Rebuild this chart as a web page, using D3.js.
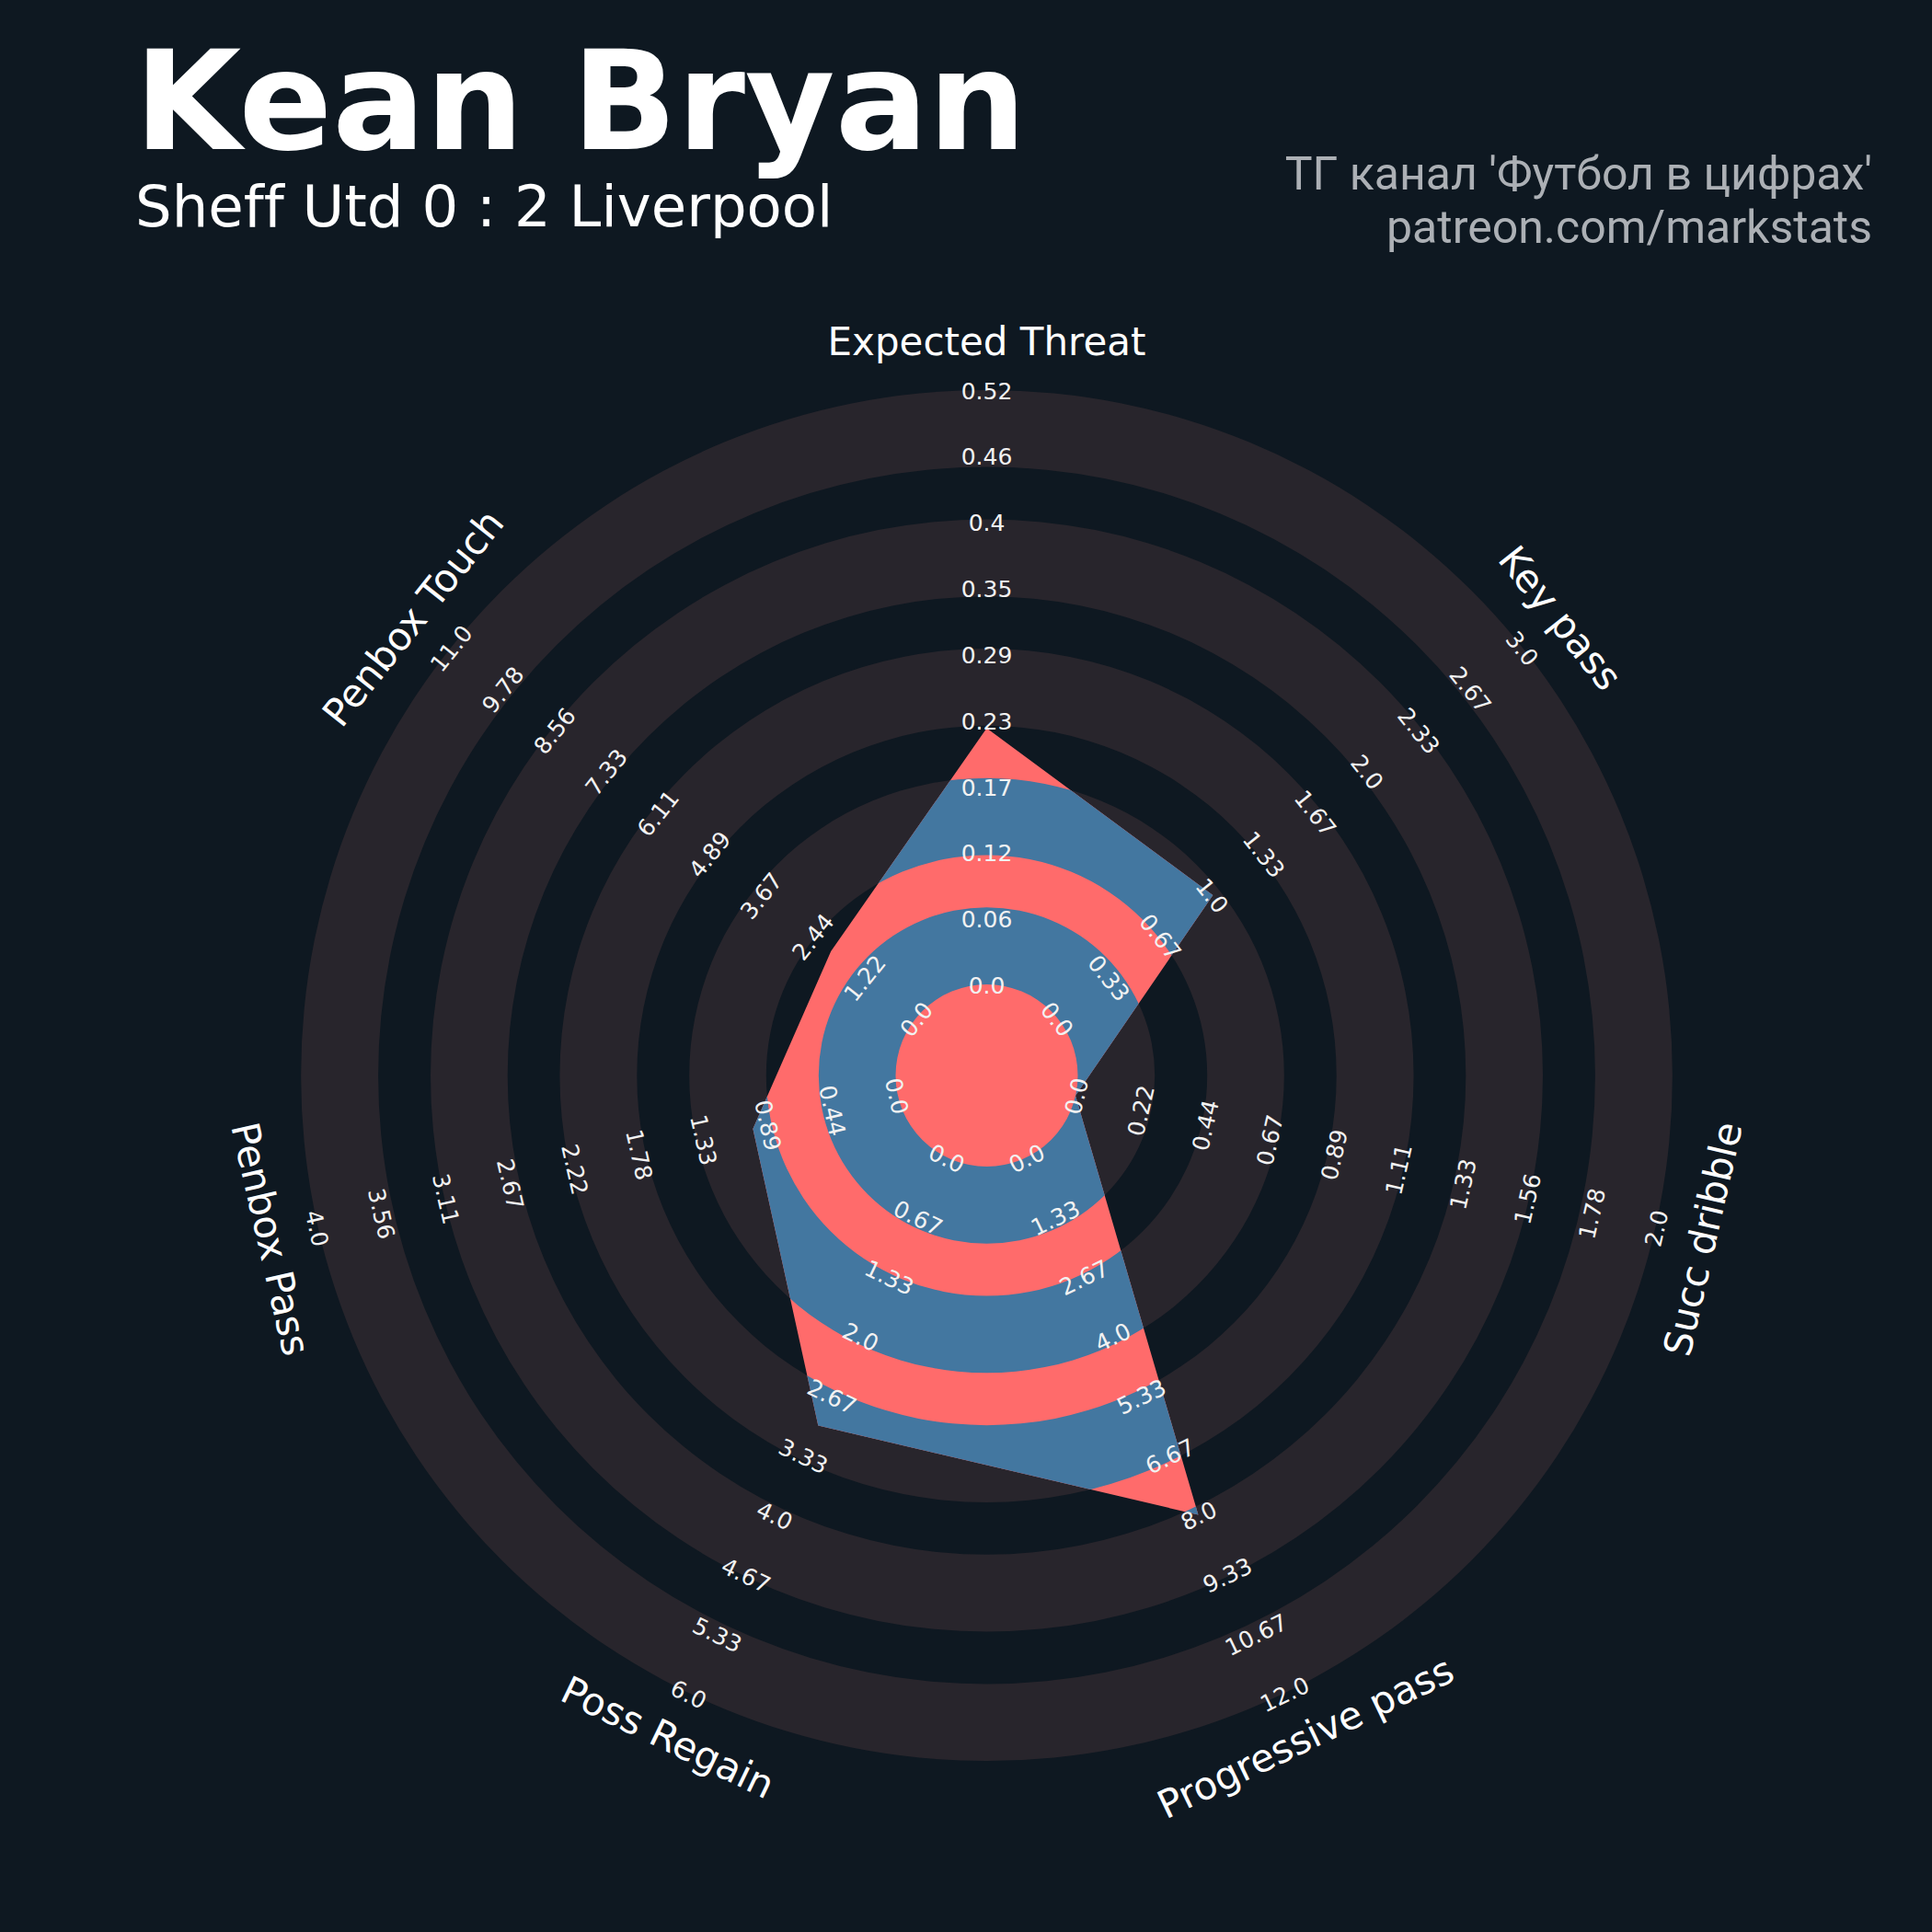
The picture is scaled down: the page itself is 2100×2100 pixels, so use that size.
<!DOCTYPE html>
<html>
<head>
<meta charset="utf-8">
<script src="https://cdn.jsdelivr.net/npm/d3@7"></script>
<style>
  html, body { margin: 0; padding: 0; background: #0e1821; }
  svg { display: block; }
  text { font-variant-ligatures: none; font-feature-settings: "liga" 0; }
</style>
</head>
<body>
<script>
// ---------------- data ----------------
const params = ['Expected Threat', 'Key pass', 'Succ dribble', 'Progressive pass',
                'Poss Regain', 'Penbox Pass', 'Penbox Touch'];
const values = [0.224, 1, 0, 8, 3, 1, 2];
const lows   = [0, 0, 0, 0, 0, 0, 0];
const highs  = [0.52, 3, 2, 12, 6, 4, 11];
const tickLabelsET  = ['0.0','0.06','0.12','0.17','0.23','0.29','0.35','0.4','0.46','0.52'];
const tickLabelsKP  = ['0.0','0.33','0.67','1.0','1.33','1.67','2.0','2.33','2.67','3.0'];
const tickLabelsSD  = ['0.0','0.22','0.44','0.67','0.89','1.11','1.33','1.56','1.78','2.0'];
const tickLabelsPP  = ['0.0','1.33','2.67','4.0','5.33','6.67','8.0','9.33','10.67','12.0'];
const tickLabelsPR  = ['0.0','0.67','1.33','2.0','2.67','3.33','4.0','4.67','5.33','6.0'];
const tickLabelsPBP = ['0.0','0.44','0.89','1.33','1.78','2.22','2.67','3.11','3.56','4.0'];
const tickLabelsPBT = ['0.0','1.22','2.44','3.67','4.89','6.11','7.33','8.56','9.78','11.0'];
const tickLabels = [tickLabelsET, tickLabelsKP, tickLabelsSD, tickLabelsPP,
                    tickLabelsPR, tickLabelsPBP, tickLabelsPBT];
const title = 'Kean Bryan';
const subtitle = 'Sheff Utd 0 : 2 Liverpool';
const creditLines = ["ТГ канал 'Футбол в цифрах'", 'patreon.com/markstats'];

// ---------------- layout ----------------
const W = 2100, H = 2100;
const cx = 1072.5, cy = 1169;
const innerR = 99, outerR = 745.5;
const nGray = 5, grayW = 83.7, darkW = 56.9;
const paramR = 798;
const BG = '#0e1821', RING = '#28252c', RED = '#ff6b6b', BLUE = '#4377a0';

const svg = d3.select('body').append('svg')
  .attr('width', W).attr('height', H)
  .attr('viewBox', `0 0 ${W} ${H}`);
svg.append('rect').attr('width', W).attr('height', H).attr('fill', BG);

const g = svg.append('g').attr('transform', `translate(${cx},${cy})`);

const n = params.length;
const angle = d3.scaleLinear().domain([0, n]).range([0, 2 * Math.PI]);
const rScales = params.map((p, i) =>
  d3.scaleLinear().domain([lows[i], highs[i]]).range([innerR, outerR]));

// band radii (gray rings)
const bands = d3.range(nGray).map(k => {
  const r0 = innerR + k * (grayW + darkW);
  return [r0, r0 + grayW];
});
const arc = d3.arc().startAngle(0).endAngle(2 * Math.PI);

// background rings
g.selectAll('path.ring').data(bands).join('path')
  .attr('class', 'ring')
  .attr('d', d => arc({innerRadius: d[0], outerRadius: d[1]}))
  .attr('fill', RING);

// radar polygon as clip
const radial = d3.lineRadial()
  .angle((d, i) => angle(i))
  .radius((d, i) => rScales[i](d))
  .curve(d3.curveLinearClosed);

svg.append('defs').append('clipPath').attr('id', 'radarClip')
  .append('path').attr('transform', `translate(${cx},${cy})`).attr('d', radial(values));

const rg = svg.append('g').attr('clip-path', 'url(#radarClip)')
  .append('g').attr('transform', `translate(${cx},${cy})`);
rg.append('circle').attr('r', outerR + 10).attr('fill', RED);
rg.selectAll('path.band').data(bands).join('path')
  .attr('class', 'band')
  .attr('d', d => arc({innerRadius: d[0], outerRadius: d[1]}))
  .attr('fill', BLUE);

const lg = svg.append('g').attr('transform', `translate(${cx},${cy})`);

// rotation helper (degrees, clockwise from top)
function rot(deg) {
  if (deg > 90 && deg < 270) return deg - 180;
  if (deg >= 270) return deg - 360;
  return deg;
}
function pos(a, r) { return [r * Math.sin(a), -r * Math.cos(a)]; }

// range labels and parameter names
params.forEach((p, i) => {
  const a = angle(i);
  const deg = a * 180 / Math.PI;
  const labs = tickLabels[i];
  const tickScale = d3.scaleLinear().domain([0, labs.length - 1]).range([lows[i], highs[i]]);
  labs.forEach((t, k) => {
    const [x, y] = pos(a, rScales[i](tickScale(k)));
    lg.append('text')
      .attr('transform', `translate(${x},${y}) rotate(${rot(deg)})`)
      .attr('text-anchor', 'middle')
      .attr('dy', '0.4em')
      .attr('font-family', 'DejaVu Sans')
      .attr('font-size', 25)
      .attr('fill', '#f2f2f2')
      .text(t);
  });
  const [px, py] = pos(a, paramR);
  lg.append('text')
    .attr('transform', `translate(${px},${py}) rotate(${rot(deg)})`)
    .attr('text-anchor', 'middle')
    .attr('dy', '0.36em')
    .attr('font-family', 'DejaVu Sans')
    .attr('font-size', 42)
    .attr('fill', '#ffffff')
    .text(p);
});

// titles
svg.append('text')
  .attr('x', 146).attr('y', 162)
  .attr('font-family', 'DejaVu Sans').attr('font-weight', 'bold')
  .attr('font-size', 150).attr('fill', '#ffffff')
  .text(title);
svg.append('text')
  .attr('x', 147).attr('y', 246)
  .attr('font-family', 'DejaVu Sans')
  .attr('font-size', 62.5).attr('fill', '#ffffff')
  .text(subtitle);
svg.selectAll('text.credit').data(creditLines).join('text')
  .attr('class', 'credit')
  .attr('x', 2035).attr('y', (d, i) => 206 + i * 58)
  .attr('text-anchor', 'end')
  .attr('font-family', 'Roboto')
  .attr('font-size', 50).attr('fill', '#acb0b5')
  .text(d => d);
</script>
</body>
</html>
